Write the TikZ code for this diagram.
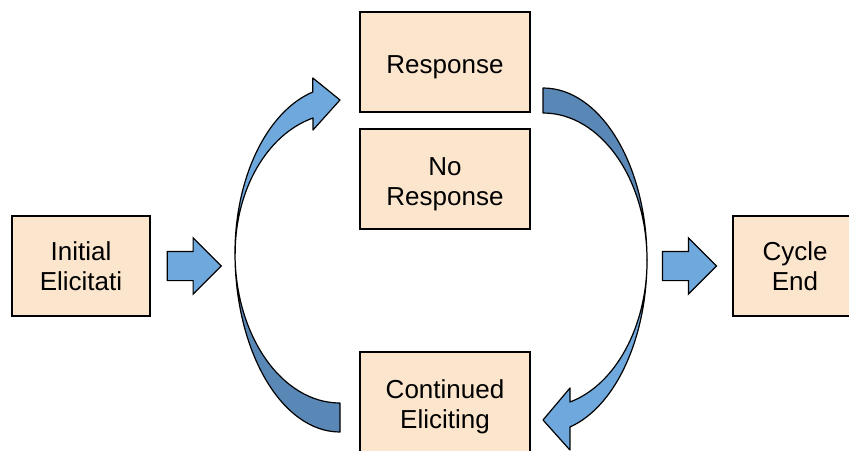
\documentclass[tikz,border=0pt]{standalone}
\usepackage{fontspec}
\setmainfont{Liberation Sans}
\usetikzlibrary{shapes.arrows, positioning, calc}
\definecolor{boxfill}{RGB}{252,229,205}
\definecolor{arrowlight}{RGB}{111,168,220}
\definecolor{arrowdark}{RGB}{90,136,182}
\tikzset{
  stage/.style    = {rectangle, draw=black, line width=1.2pt, fill=boxfill,
                     text width=#1, align=center, minimum height=100pt,
                     inner sep=0pt, font=\fontsize{26}{30}\selectfont},
  stage/.default  = 170pt,
  droptext/.style = {execute at begin node={\rule{0pt}{27.5pt}}},
  push/.style     = {single arrow, draw=black, line width=1.2pt, fill=arrowlight,
                     minimum height=54pt, single arrow head extend=13.5pt,
                     inner xsep=0pt, inner ysep=14pt},
  front/.style    = {draw=black, line width=1.2pt, fill=arrowlight, line join=round},
  back/.style     = {draw=black, line width=1.2pt, fill=arrowdark, line join=round},
}

\begin{document}
\begin{tikzpicture}[x=1pt, y=-1pt]

  \useasboundingbox (0,0) rectangle (849,450);
  \clip (0,0) rectangle (849,450);

  %─── Stages ────────────────────────────────────────────────────────────────
  \node[stage=138pt]     at (81,266)  (init)   {Initial\\Elicitati};
  \node[stage, droptext] at (445,62)  (resp)   {Response};
  \node[stage, droptext] at (445,179) (noresp) {No\\Response};
  \node[stage, droptext] at (445,402) (cont)   {Continued\\Eliciting};
  \node[stage=124pt]     at (795,266) (cycle)  {Cycle\\End};

  %─── Straight block arrows ─────────────────────────────────────────────────
  \node[push, right=16pt of init] (enter) {};
  \node[push, left=15pt of cycle] (leave) {};

  %─── Left loop: Continued Eliciting -> Response ────────────────────────────
  \coordinate (lc) at (340,253);
  \draw[back] ($(lc)+(-105,0)$)
        arc[start angle=180, end angle=90, x radius=105, y radius=179]
        -- ++(0,-29)
        arc[start angle=90, end angle=180, x radius=105, y radius=150] -- cycle;
  \draw[front] ($(lc)+(-105,0)$)
        arc[start angle=180, end angle=255, x radius=105, y radius=166.7]
        -- ++(0,-14) -- (340,100) -- (313,130) -- (313,118)
        arc[start angle=255, end angle=180, x radius=105, y radius=139.7] -- cycle;

  %─── Right loop: Response -> Continued Eliciting ───────────────────────────
  \coordinate (rc) at (543,260);
  \draw[back] ($(rc)+(104,0)$)
        arc[start angle=0, end angle=-90, x radius=104, y radius=172]
        -- ++(0,25)
        arc[start angle=-90, end angle=0, x radius=104, y radius=147] -- cycle;
  \draw[front] ($(rc)+(104,0)$)
        arc[start angle=0, end angle=75, x radius=104, y radius=172.9]
        -- ++(0,23) -- (543,420) -- (570,388) -- (570,402)
        arc[start angle=75, end angle=0, x radius=104, y radius=147] -- cycle;

\end{tikzpicture}
\end{document}
